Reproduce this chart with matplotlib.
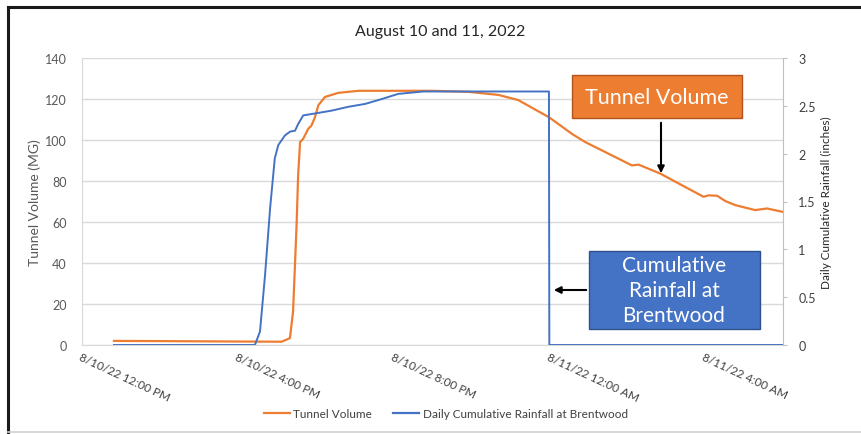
import matplotlib
matplotlib.use("Agg")
import matplotlib.pyplot as plt
import matplotlib.dates as mdates
import pandas as pd
from matplotlib.patches import Rectangle, FancyArrowPatch
from matplotlib.lines import Line2D

plt.rcParams['font.family'] = ['Lato', 'DejaVu Sans']

# ---- data (hours after 8/10/22 12:00 PM) ----
tunnel_hours = [0.82, 2.0, 3.0, 4.0, 5.12, 5.24, 5.34, 5.42, 5.51, 5.55, 5.60, 5.68, 5.81, 5.89,
                5.98, 6.07, 6.24, 6.58, 7.1, 8.12, 9.0, 9.92, 10.69, 11.2, 12.0, 12.58, 12.92,
                13.69, 14.12, 14.29, 14.85, 15.32, 15.96, 16.09, 16.31, 16.52, 16.78, 17.29,
                17.59, 17.98]
tunnel_volume = [2.0, 1.9, 1.8, 1.7, 1.6, 2.5, 3.4, 16.4, 58.5, 82.8, 99.0, 100.6, 105.5, 107.0,
                 111.0, 117.0, 121.0, 123.0, 124.0, 124.0, 124.0, 123.5, 122.0, 119.5, 111.0,
                 103.0, 99.0, 91.7, 87.6, 88.0, 83.6, 78.8, 72.3, 73.0, 72.8, 70.2, 68.2, 65.8,
                 66.6, 65.0]

rain_hours = [0.82, 2.0, 3.0, 4.0, 4.44, 4.57, 4.70, 4.83, 4.95, 5.04, 5.21, 5.34, 5.47, 5.55,
              5.68, 5.98, 6.41, 6.84, 7.27, 7.69, 8.12, 8.77, 10.0, 11.99, 12.0, 14.0, 16.0, 17.98]
rain_inches = [0.0, 0.0, 0.0, 0.0, 0.0, 0.14, 0.73, 1.43, 1.95, 2.09, 2.19, 2.23, 2.24, 2.31,
               2.40, 2.42, 2.45, 2.49, 2.52, 2.57, 2.625, 2.65, 2.65, 2.65, 0.0, 0.0, 0.0, 0.0]

tick_hours = [0, 4, 8, 12, 16]
tick_labels = ["8/10/22 12:00 PM", "8/10/22 4:00 PM", "8/10/22 8:00 PM",
               "8/11/22 12:00 AM", "8/11/22 4:00 AM"]
left_ticks = [0, 20, 40, 60, 80, 100, 120, 140]
right_ticks = [0, 0.5, 1, 1.5, 2, 2.5, 3]
right_tick_labels = ["0", "0.5", "1", "1.5", "2", "2.5", "3"]

base = pd.Timestamp("2022-08-10 12:00")
def to_dt(h):
    return base + pd.to_timedelta(pd.Series(h), unit="h")

ORANGE = "#ED7D31"
BLUE = "#4472C4"
GRID = "#D9D9D9"
TICKC = "#595959"

fig = plt.figure(figsize=(8.62, 4.35), dpi=100)
ax = fig.add_axes([82/862, 1-346/435, (783-82)/862, (346-59)/435])
ax2 = ax.twinx()

ax.plot(to_dt(tunnel_hours), tunnel_volume, color=ORANGE, lw=1.6, solid_joinstyle='round')
ax2.plot(to_dt(rain_hours), rain_inches, color=BLUE, lw=1.4, solid_joinstyle='round')

ax.set_xlim(base, base + pd.Timedelta(hours=18))
ax.set_ylim(0, 140)
ax2.set_ylim(0, 3)
ax.set_yticks(left_ticks)
ax.set_yticklabels([str(v) for v in left_ticks])
ax2.set_yticks(right_ticks)
ax2.set_yticklabels(right_tick_labels)

ax.set_xticks(list(to_dt(tick_hours)))
ax.set_xticklabels(tick_labels, rotation=-25, ha='left', va='top', rotation_mode='anchor')

ax.grid(axis='y', color=GRID, lw=1.0)
ax.set_axisbelow(True)
for a in (ax, ax2):
    for s in a.spines.values():
        s.set_visible(False)
ax.spines['bottom'].set_visible(True)
ax.spines['bottom'].set_color(GRID)
ax.spines['left'].set_visible(True)
ax.spines['left'].set_color(GRID)
ax2.spines['right'].set_visible(True)
ax2.spines['right'].set_color("#BFBFBF")

ax.tick_params(axis='y', length=0, labelsize=9, labelcolor=TICKC, pad=11)
ax.tick_params(axis='x', length=0, labelsize=8.5, labelcolor="#404040", pad=4)
ax2.tick_params(axis='y', length=3, color="#BFBFBF", labelsize=9, labelcolor="#404040", pad=8)

ax.set_ylabel("Tunnel Volume (MG)", fontsize=10, color=TICKC, labelpad=3)
ax2.set_ylabel("Daily Cumulative Rainfall (inches)", fontsize=8.5, color="#262626", labelpad=4)

fig.text(440/862, 1-32/435, "August 10 and 11, 2022", ha='center', va='center', fontsize=11.5, color="#262626")

# legend
handles = [Line2D([], [], color=ORANGE, lw=1.6), Line2D([], [], color=BLUE, lw=1.6)]
fig.legend(handles, ["Tunnel Volume", "Daily Cumulative Rainfall at Brentwood"],
           loc='center', bbox_to_anchor=(446/862, 1-415/435), ncol=2, frameon=False,
           fontsize=8.5, handlelength=2.2, handletextpad=0.3, columnspacing=1.8,
           labelcolor="#404040")

# annotation boxes (figure pixel coords)
def fx(px): return px/862
def fy(py): return 1-py/435

fig.patches.append(Rectangle((fx(572), fy(119)), fx(742)-fx(572), fy(76)-fy(119),
                             transform=fig.transFigure, facecolor=ORANGE, edgecolor="#B3541E", lw=1.0, zorder=5))
fig.text(fx(657), fy(98), "Tunnel Volume", ha='center', va='center', color='white', fontsize=15.5, zorder=6)
fig.patches.append(Rectangle((fx(589), fy(330)), fx(760)-fx(589), fy(252)-fy(330),
                             transform=fig.transFigure, facecolor=BLUE, edgecolor="#2F528F", lw=1.0, zorder=5))
fig.text(fx(674), fy(291), "Cumulative\nRainfall at\nBrentwood", ha='center', va='center', color='white',
         fontsize=15, linespacing=1.3, zorder=6)

fig.patches.append(FancyArrowPatch((fx(661), fy(121)), (fx(661), fy(177)), transform=fig.transFigure,
                                   arrowstyle='-|>', mutation_scale=10, color='black', lw=1.5, zorder=6))
fig.patches.append(FancyArrowPatch((fx(589), fy(291)), (fx(551), fy(291)), transform=fig.transFigure,
                                   arrowstyle='-|>', mutation_scale=10, color='black', lw=1.5, zorder=6))

# outer frame
fig.add_artist(Line2D([fx(8), fx(8)], [fy(8), fy(433)], transform=fig.transFigure, color='#1a1a1a', lw=2.2))
fig.add_artist(Line2D([fx(8), 1], [fy(8), fy(8)], transform=fig.transFigure, color='#1a1a1a', lw=2.2))
fig.add_artist(Line2D([fx(8), 1], [fy(433), fy(433)], transform=fig.transFigure, color='#D0D0D0', lw=1.2))

fig.savefig("out.png", dpi=100)
